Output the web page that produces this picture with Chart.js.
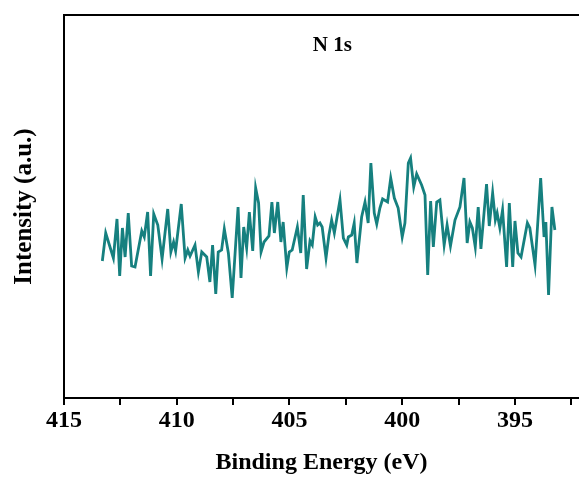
<!DOCTYPE html>
<html>
<head>
<meta charset="utf-8">
<script src="https://cdn.jsdelivr.net/npm/chart.js@4.4.0/dist/chart.umd.min.js"></script>
<style>
  html, body { margin: 0; padding: 0; background: #fff; }
  #wrap { width: 579px; height: 477px; }
</style>
</head>
<body>
<div id="wrap"><canvas id="myChart" width="579" height="477"></canvas></div>
<script>
// N 1s spectrum
const energy = [
  413.30, 413.15, 412.81, 412.65, 412.53, 412.41, 412.29, 412.15, 412.00, 411.85,
  411.55, 411.44, 411.29, 411.16, 411.02, 410.84, 410.65, 410.40, 410.26, 410.14,
  410.05, 409.80, 409.63, 409.51, 409.41, 409.19, 409.04, 408.89, 408.67, 408.53,
  408.41, 408.27, 408.16, 408.01, 407.89, 407.71, 407.54, 407.28, 407.15, 407.03,
  406.90, 406.78, 406.63, 406.50, 406.37, 406.26, 406.13, 405.91, 405.78, 405.67,
  405.52, 405.38, 405.28, 405.12, 405.01, 404.88, 404.65, 404.50, 404.39, 404.24,
  404.09, 403.99, 403.86, 403.75, 403.65, 403.55, 403.38, 403.25, 403.13, 403.01,
  402.76, 402.61, 402.46, 402.39, 402.24, 402.13, 402.01, 401.80, 401.65, 401.51,
  401.39, 401.24, 401.13, 400.99, 400.87, 400.65, 400.51, 400.35, 400.18, 400.00,
  399.88, 399.73, 399.63, 399.49, 399.36, 399.14, 398.99, 398.87, 398.74, 398.62,
  398.47, 398.33, 398.14, 398.01, 397.86, 397.66, 397.44, 397.26, 397.12, 397.00,
  396.89, 396.76, 396.63, 396.51, 396.26, 396.14, 395.99, 395.87, 395.79, 395.67,
  395.55, 395.37, 395.25, 395.10, 395.00, 394.87, 394.73, 394.45, 394.34, 394.11,
  393.86, 393.71, 393.63, 393.51, 393.36, 393.23
];
const intensity = [
  137, 165, 140, 179, 122, 170, 141, 185, 132, 131,
  167, 161, 186, 122, 184, 173, 139, 189, 146, 156,
  147, 194, 140, 148, 142, 153, 126, 146, 141, 116,
  153, 104, 146, 148, 169, 145, 100, 191, 120, 171,
  150, 186, 147, 210, 195, 146, 156, 162, 196, 165,
  196, 156, 176, 130, 146, 148, 171, 145, 203, 129,
  157, 153, 181, 173, 175, 171, 140, 163, 178, 165,
  198, 160, 153, 161, 163, 175, 135, 181, 196, 175,
  235, 185, 174, 190, 199, 196, 220, 200, 190, 161,
  175, 235, 240, 211, 224, 213, 203, 123, 197, 151,
  196, 198, 153, 173, 152, 178, 191, 220, 155, 176,
  170, 151, 191, 149, 214, 172, 205, 178, 185, 170,
  188, 131, 195, 131, 177, 145, 141, 175, 170, 133,
  220, 161, 176, 103, 191, 168
];
const tickValues = [415, 412.5, 410, 407.5, 405, 402.5, 400, 397.5, 395, 392.5];
const xRange = [392.16, 415];
const yRange = [0, 383];
const peakLabel = "N 1s";
const labelEnergy = 403.1;

const serif = "'Liberation Serif', 'Times New Roman', serif";

const topBorder = {
  id: "topBorder",
  afterDraw(chart) {
    const { ctx, chartArea } = chart;
    ctx.save();
    ctx.strokeStyle = "#000";
    ctx.lineWidth = 2;
    ctx.beginPath();
    ctx.moveTo(chartArea.left - 1, chartArea.top);
    ctx.lineTo(chart.width, chartArea.top);
    ctx.stroke();
    // peak name
    ctx.fillStyle = "#000";
    ctx.font = "bold 21px " + serif;
    ctx.textAlign = "center";
    ctx.textBaseline = "middle";
    ctx.fillText(peakLabel, chart.scales.x.getPixelForValue(labelEnergy), chartArea.top + 31);
    ctx.restore();
  }
};

const ctx = document.getElementById("myChart").getContext("2d");
const points = energy.map((e, i) => ({ x: e, y: intensity[i] }));

new Chart(ctx, {
  type: "line",
  data: {
    datasets: [
      {
        label: peakLabel,
        data: points,
        borderColor: "#16807f",
        borderWidth: 2.8,
        pointRadius: 0,
        tension: 0,
        fill: false,
      },
    ],
  },
  options: {
    responsive: false,
    animation: false,
    layout: { padding: { top: 15, right: 0, left: 0, bottom: 0 } },
    plugins: { legend: { display: false }, tooltip: { enabled: false } },
    scales: {
      x: {
        type: "linear",
        reverse: true,
        min: xRange[0],
        max: xRange[1],
        afterFit: (s) => { s.height = 79; },
        afterBuildTicks: (s) => { s.ticks = tickValues.map((v) => ({ value: v })); },
        border: { display: true, color: "#000", width: 2 },
        grid: {
          display: true,
          drawOnChartArea: false,
          drawTicks: true,
          tickLength: 7,
          color: "#000",
          lineWidth: 2,
        },
        ticks: {
          autoSkip: false,
          maxRotation: 0,
          padding: 1,
          color: "#000",
          font: { family: serif, size: 24, weight: "bold" },
          callback: (v) => (v % 5 === 0 ? String(v) : ""),
        },
        title: {
          display: true,
          text: "Binding Energy (eV)",
          color: "#000",
          font: { family: serif, size: 24, weight: "bold" },
          padding: { top: 0, bottom: 0 },
        },
      },
      y: {
        min: yRange[0],
        max: yRange[1],
        afterFit: (s) => { s.width = 64; },
        border: { display: true, color: "#000", width: 2 },
        grid: { display: false },
        ticks: { display: false },
        title: {
          display: true,
          text: "Intensity (a.u.)",
          color: "#000",
          font: { family: serif, size: 25, weight: "bold" },
          padding: { top: 10, bottom: 0 },
        },
      },
    },
  },
  plugins: [topBorder],
});
</script>
</body>
</html>
